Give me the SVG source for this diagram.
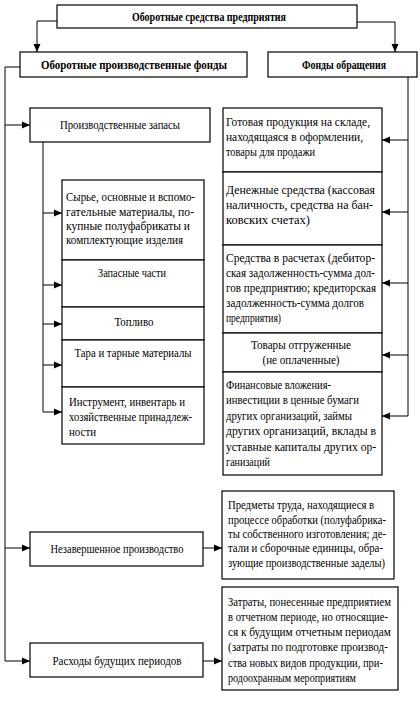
<svg xmlns="http://www.w3.org/2000/svg" width="420" height="702" viewBox="0 0 420 702">
<style>
.b{fill:#fff;stroke:#000;stroke-width:1.2}
text{font-family:"Liberation Serif","Times New Roman",serif;font-size:12px;fill:#000}
.h{font-weight:bold;font-size:12.5px}
.c{text-anchor:middle}
.l{fill:none;stroke:#000;stroke-width:1}
</style>
<defs>
<marker id="a" viewBox="0 0 8 8" refX="8" refY="4" markerWidth="8" markerHeight="8" markerUnits="userSpaceOnUse" orient="auto">
<path d="M0,0.5 L8,4 L0,7.5 Z" fill="#000"/>
</marker>
</defs>
<rect width="420" height="702" fill="#fff"/>
<g id="connectors">
<path class="l" d="M57,21 H37 V52" marker-end="url(#a)"/>
<path class="l" d="M357,22 H395 V52" marker-end="url(#a)"/>
<path class="l" d="M20,67 H5 V661"/>
<path class="l" d="M5,125 H30" marker-end="url(#a)"/>
<path class="l" d="M5,548 H30" marker-end="url(#a)"/>
<path class="l" d="M5,661 H30" marker-end="url(#a)"/>
<path class="l" d="M43,142 V412"/>
<path class="l" d="M43,213 H62" marker-end="url(#a)"/>
<path class="l" d="M43,285 H62" marker-end="url(#a)"/>
<path class="l" d="M43,324 H62" marker-end="url(#a)"/>
<path class="l" d="M43,365 H62" marker-end="url(#a)"/>
<path class="l" d="M43,412 H62" marker-end="url(#a)"/>
<path class="l" d="M408,77 V416"/>
<path class="l" d="M408,140 H382" marker-end="url(#a)"/>
<path class="l" d="M408,212 H382" marker-end="url(#a)"/>
<path class="l" d="M408,283 H382" marker-end="url(#a)"/>
<path class="l" d="M408,355 H382" marker-end="url(#a)"/>
<path class="l" d="M408,416 H382" marker-end="url(#a)"/>
<path class="l" d="M203,548 H222" marker-end="url(#a)"/>
<path class="l" d="M203,661 H222" marker-end="url(#a)"/>
</g>
<g id="root">
<rect class="b" x="57" y="5" width="300" height="23"/>
<text class="h c" x="209" y="21" textLength="154" lengthAdjust="spacingAndGlyphs">Оборотные средства предприятия</text>
</g>
<g id="prod-funds">
<rect class="b" x="20" y="52" width="227" height="25"/>
<text class="h c" x="134" y="69" textLength="186" lengthAdjust="spacingAndGlyphs">Оборотные производственные фонды</text>
</g>
<g id="circ-funds">
<rect class="b" x="268" y="52" width="149" height="25"/>
<text class="h c" x="344" y="69" textLength="84" lengthAdjust="spacingAndGlyphs">Фонды обращения</text>
</g>
<g id="zapasy">
<rect class="b" x="30" y="108" width="180" height="34"/>
<text class="c" x="120" y="129" textLength="120" lengthAdjust="spacingAndGlyphs">Производственные запасы</text>
</g>
<g id="syrye">
<rect class="b" x="62" y="180" width="142" height="80"/>
<text x="66" y="201" textLength="129" lengthAdjust="spacingAndGlyphs">Сырье, основные и вспомо-</text>
<text x="66" y="216" textLength="128" lengthAdjust="spacingAndGlyphs">гательные материалы, по-</text>
<text x="66" y="230" textLength="124" lengthAdjust="spacingAndGlyphs">купные полуфабрикаты и</text>
<text x="66" y="244" textLength="117" lengthAdjust="spacingAndGlyphs">комплектующие изделия</text>
</g>
<g id="zapchasti">
<rect class="b" x="62" y="260" width="142" height="47"/>
<text class="c" x="132" y="277" textLength="68" lengthAdjust="spacingAndGlyphs">Запасные части</text>
</g>
<g id="toplivo">
<rect class="b" x="62" y="307" width="142" height="33"/>
<text class="c" x="134" y="326" textLength="39" lengthAdjust="spacingAndGlyphs">Топливо</text>
</g>
<g id="tara">
<rect class="b" x="62" y="340" width="142" height="47"/>
<text class="c" x="133" y="357" textLength="117" lengthAdjust="spacingAndGlyphs">Тара и тарные материалы</text>
</g>
<g id="instrument">
<rect class="b" x="62" y="387" width="142" height="57"/>
<text x="69" y="406" textLength="116" lengthAdjust="spacingAndGlyphs">Инструмент, инвентарь и</text>
<text x="69" y="421" textLength="123" lengthAdjust="spacingAndGlyphs">хозяйственные принадлеж-</text>
<text x="69" y="436" textLength="27" lengthAdjust="spacingAndGlyphs">ности</text>
</g>
<g id="gotovaya">
<rect class="b" x="223" y="108" width="159" height="64"/>
<text x="226" y="126" textLength="144" lengthAdjust="spacingAndGlyphs">Готовая продукция на складе,</text>
<text x="226" y="141" textLength="137" lengthAdjust="spacingAndGlyphs">находящаяся в оформлении,</text>
<text x="226" y="156" textLength="89" lengthAdjust="spacingAndGlyphs">товары для продажи</text>
</g>
<g id="denezhnye">
<rect class="b" x="223" y="172" width="159" height="73"/>
<text x="226" y="194" textLength="149" lengthAdjust="spacingAndGlyphs">Денежные средства (кассовая</text>
<text x="226" y="209" textLength="147" lengthAdjust="spacingAndGlyphs">наличность, средства на бан-</text>
<text x="226" y="224" textLength="84" lengthAdjust="spacingAndGlyphs">ковских счетах)</text>
</g>
<g id="raschety">
<rect class="b" x="223" y="245" width="159" height="88"/>
<text x="226" y="262" textLength="149" lengthAdjust="spacingAndGlyphs">Средства в расчетах (дебитор-</text>
<text x="226" y="277" textLength="149" lengthAdjust="spacingAndGlyphs">ская задолженность-сумма дол-</text>
<text x="226" y="292" textLength="150" lengthAdjust="spacingAndGlyphs">гов предприятию; кредиторская</text>
<text x="226" y="307" textLength="138" lengthAdjust="spacingAndGlyphs">задолженность-сумма долгов</text>
<text x="226" y="322" textLength="55" lengthAdjust="spacingAndGlyphs">предприятия)</text>
</g>
<g id="tovary">
<rect class="b" x="223" y="333" width="159" height="39"/>
<text class="c" x="301" y="349" textLength="100" lengthAdjust="spacingAndGlyphs">Товары отгруженные</text>
<text class="c" x="301" y="364" textLength="77" lengthAdjust="spacingAndGlyphs">(не оплаченные)</text>
</g>
<g id="finansy">
<rect class="b" x="223" y="372" width="159" height="103"/>
<text x="226" y="389" textLength="105" lengthAdjust="spacingAndGlyphs">Финансовые вложения-</text>
<text x="226" y="404" textLength="133" lengthAdjust="spacingAndGlyphs">инвестиции в ценные бумаги</text>
<text x="226" y="420" textLength="126" lengthAdjust="spacingAndGlyphs">других организаций, займы</text>
<text x="226" y="435" textLength="150" lengthAdjust="spacingAndGlyphs">других организаций, вклады в</text>
<text x="226" y="451" textLength="150" lengthAdjust="spacingAndGlyphs">уставные капиталы других ор-</text>
<text x="226" y="466" textLength="44" lengthAdjust="spacingAndGlyphs">ганизаций</text>
</g>
<g id="nezaversh">
<rect class="b" x="30" y="532" width="173" height="34"/>
<text class="c" x="117" y="553" textLength="133" lengthAdjust="spacingAndGlyphs">Незавершенное производство</text>
</g>
<g id="predmety">
<rect class="b" x="222" y="491" width="172" height="88"/>
<text x="228" y="509" textLength="146" lengthAdjust="spacingAndGlyphs">Предметы труда, находящиеся в</text>
<text x="228" y="524" textLength="158" lengthAdjust="spacingAndGlyphs">процессе обработки (полуфабрика-</text>
<text x="228" y="538" textLength="158" lengthAdjust="spacingAndGlyphs">ты собственного изготовления; де-</text>
<text x="228" y="552" textLength="155" lengthAdjust="spacingAndGlyphs">тали и сборочные единицы, обра-</text>
<text x="228" y="567" textLength="157" lengthAdjust="spacingAndGlyphs">зующие производственные заделы)</text>
</g>
<g id="raskhody">
<rect class="b" x="30" y="643" width="173" height="34"/>
<text class="c" x="117" y="665" textLength="129" lengthAdjust="spacingAndGlyphs">Расходы будущих периодов</text>
</g>
<g id="zatraty">
<rect class="b" x="222" y="587" width="176" height="103"/>
<text x="228" y="606" textLength="163" lengthAdjust="spacingAndGlyphs">Затраты, понесенные предприятием</text>
<text x="228" y="621" textLength="160" lengthAdjust="spacingAndGlyphs">в отчетном периоде, но относящие-</text>
<text x="228" y="636" textLength="163" lengthAdjust="spacingAndGlyphs">ся к будущим отчетным периодам</text>
<text x="228" y="651" textLength="160" lengthAdjust="spacingAndGlyphs">(затраты по подготовке производ-</text>
<text x="228" y="667" textLength="155" lengthAdjust="spacingAndGlyphs">ства новых видов продукции, при-</text>
<text x="228" y="682" textLength="128" lengthAdjust="spacingAndGlyphs">родоохранным мероприятиям</text>
</g>
</svg>
